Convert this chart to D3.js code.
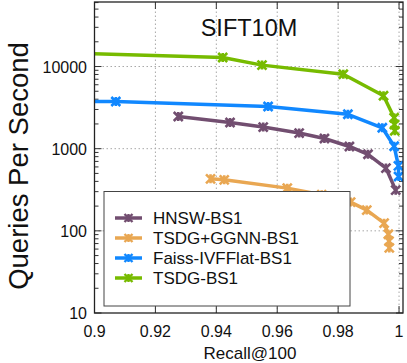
<!DOCTYPE html>
<html><head><meta charset="utf-8">
<script src="https://cdn.jsdelivr.net/npm/d3@7"></script>
<style>body{margin:0;background:#fff}svg{display:block}text{font-family:"Liberation Sans",Arial,Helvetica,sans-serif;fill:#111}</style>
</head><body><svg id="c" width="407" height="363"></svg>
<script>
const seriesNames = ["HNSW-BS1", "TSDG+GGNN-BS1", "Faiss-IVFFlat-BS1", "TSDG-BS1"];
const seriesColors = ["#724e70", "#e9a752", "#1188ff", "#77bb00"];
const hnswRecall = [0.9275, 0.9445, 0.9554, 0.9672, 0.9755, 0.9837, 0.9898, 0.9957, 0.9989];
const hnswQps    = [2466, 2084, 1832, 1549, 1331, 1064, 855, 581, 313];
const ggnnRecall = [0.9381, 0.9426, 0.9633, 0.9746, 0.9841, 0.9894, 0.9951, 0.9965, 0.9967, 0.9968];
const ggnnQps    = [430, 418, 331, 275, 224, 179, 124, 91, 75, 62];
const faissRecall = [0.885, 0.907, 0.957, 0.9832, 0.9945, 0.9984, 0.9998, 0.99985];
const faissQps    = [3780, 3755, 3263, 2623, 1797, 1070, 619, 459];
const tsdgRecall = [0.885, 0.9421, 0.955, 0.9817, 0.9949, 0.9984, 0.9985, 0.9986];
const tsdgQps    = [14800, 12890, 10400, 8050, 4406, 2377, 1960, 1652];
const xTicks = [0.9, 0.92, 0.94, 0.96, 0.98, 1];
const xTickLabels = ["0.9", "0.92", "0.94", "0.96", "0.98", "1"];
const yTicks = [10, 100, 1000, 10000];
const yTickLabels = ["10", "100", "1000", "10000"];
const title = "SIFT10M";
const xTitle = "Recall@100";
const yTitle = "Queries Per Second";

const recalls = [hnswRecall, ggnnRecall, faissRecall, tsdgRecall];
const qpss = [hnswQps, ggnnQps, faissQps, tsdgQps];
const series = seriesNames.map((n, i) => ({name: n, color: seriesColors[i],
  pts: recalls[i].map((r, j) => ({x: r, y: qpss[i][j]}))}));

const L = 94.5, R = 403, T = 2, B = 313;
const x = d3.scaleLinear().domain([0.9, 1.0013]).range([L, R]);
const y = d3.scaleLog().domain([10, 61000]).range([B, T]);
const svg = d3.select("#c");

svg.append("defs").append("clipPath").attr("id", "clip")
  .append("rect").attr("x", L).attr("y", T).attr("width", R - L).attr("height", B - T);

// grid
const grid = svg.append("g").attr("stroke", "#a8a8a8").attr("stroke-width", 1).attr("stroke-dasharray", "1.5,2.5");
xTicks.slice(1).forEach(t => grid.append("line").attr("x1", x(t)).attr("x2", x(t)).attr("y1", B).attr("y2", T));
yTicks.slice(1).forEach(t => grid.append("line").attr("x1", L).attr("x2", R).attr("y1", y(t)).attr("y2", y(t)));

// minor / major ticks
const tk = svg.append("g").attr("stroke", "#333").attr("stroke-width", 1);
const minor = [];
[10, 100, 1000, 10000].forEach(d => { for (let k = 2; k <= 9; k++) { const v = d * k; if (v < 61000) minor.push(v); } });
minor.forEach(v => {
  tk.append("line").attr("x1", L).attr("x2", L + 4).attr("y1", y(v)).attr("y2", y(v));
  tk.append("line").attr("x1", R).attr("x2", R - 4).attr("y1", y(v)).attr("y2", y(v));
});
yTicks.forEach(v => {
  tk.append("line").attr("x1", L).attr("x2", L + 7).attr("y1", y(v)).attr("y2", y(v));
  tk.append("line").attr("x1", R).attr("x2", R - 7).attr("y1", y(v)).attr("y2", y(v));
});
xTicks.forEach(v => {
  tk.append("line").attr("x1", x(v)).attr("x2", x(v)).attr("y1", B).attr("y2", B - 7);
  tk.append("line").attr("x1", x(v)).attr("x2", x(v)).attr("y1", T).attr("y2", T + 7);
});

// tick labels
xTicks.forEach((v, i) => svg.append("text").attr("x", x(v)).attr("y", 337).attr("text-anchor", "middle")
  .attr("font-size", 16).text(xTickLabels[i]));
yTicks.forEach((v, i) => svg.append("text").attr("x", 87).attr("y", y(v) + 6).attr("text-anchor", "end")
  .attr("font-size", 16).text(yTickLabels[i]));

// axis titles
svg.append("text").attr("x", 250).attr("y", 359).attr("text-anchor", "middle").attr("font-size", 17).text(xTitle);
svg.append("text").attr("transform", "translate(28,166) rotate(-90)").attr("text-anchor", "middle")
  .attr("font-size", 27.5).text(yTitle);
svg.append("text").attr("x", 249).attr("y", 36).attr("text-anchor", "middle").attr("font-size", 23.5).text(title);

// marker
function markerPath(s) {
  return `M${-s},${-s}L${s},${s}M${-s},${s}L${s},${-s}M0,${-s}L0,${s}`;
}
const line = d3.line().x(d => x(d.x)).y(d => y(d.y));
const plot = svg.append("g").attr("clip-path", "url(#clip)");
series.forEach(s => {
  plot.append("path").datum(s.pts).attr("d", line).attr("fill", "none").attr("stroke", s.color)
    .attr("stroke-width", 3.5).attr("stroke-linejoin", "round");
  plot.selectAll(null).data(s.pts).enter().append("path")
    .attr("transform", d => `translate(${x(d.x)},${y(d.y)})`).attr("d", markerPath(4.5))
    .attr("stroke", s.color).attr("stroke-width", 2.6).attr("fill", "none");
});

// frame
svg.append("rect").attr("x", L).attr("y", T).attr("width", R - L).attr("height", B - T)
  .attr("fill", "none").attr("stroke", "#222").attr("stroke-width", 1.3);

// legend
const lg = svg.append("g");
lg.append("rect").attr("x", 104).attr("y", 191.5).attr("width", 246).attr("height", 114.5)
  .attr("fill", "#fff").attr("stroke", "#444").attr("stroke-width", 1);
series.forEach((s, i) => {
  const cy = 218 + i * 20;
  lg.append("line").attr("x1", 115).attr("x2", 142).attr("y1", cy).attr("y2", cy)
    .attr("stroke", s.color).attr("stroke-width", 3.5);
  lg.append("path").attr("transform", `translate(128.5,${cy})`).attr("d", markerPath(4))
    .attr("stroke", s.color).attr("stroke-width", 2.4).attr("fill", "none");
  lg.append("text").attr("x", 153).attr("y", cy + 6).attr("font-size", 17).text(s.name);
});
</script></body></html>
